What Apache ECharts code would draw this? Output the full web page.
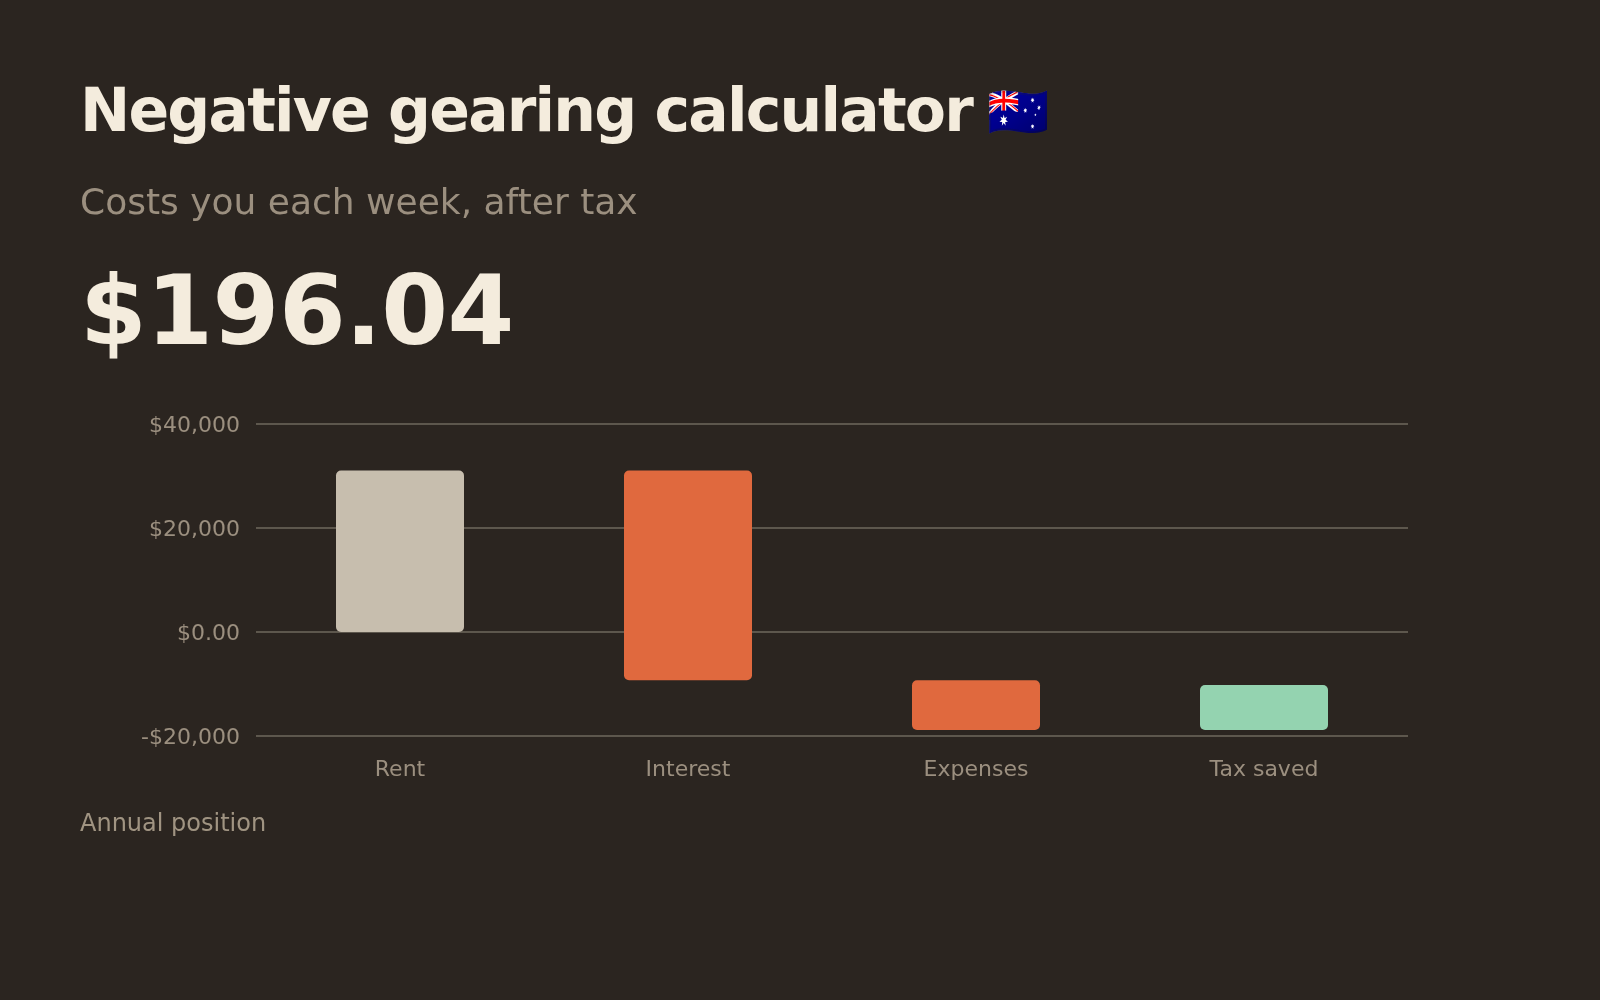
<!DOCTYPE html>
<html>
<head>
<meta charset="utf-8">
<title>Negative gearing calculator</title>
<script src="https://cdn.jsdelivr.net/npm/echarts@6/dist/echarts.min.js"></script>
<style>
  html, body { margin: 0; padding: 0; background: #2b2520; }
  body { width: 1600px; height: 1000px; position: relative; overflow: hidden; font-family: "DejaVu Sans", sans-serif; }
  #chart { position: absolute; left: 0; top: 0; width: 1600px; height: 1000px; }
  .txt { position: absolute; left: 80px; line-height: 1; white-space: nowrap; z-index: 2; }
  #title { top: 80px; font-size: 60px; font-weight: bold; color: #f4ecdd; letter-spacing: -0.03em; }
  #title .flag { font-size: 50px; letter-spacing: 0; margin-left: -4px; vertical-align: 2px; }
  #subtitle { top: 184px; font-size: 36px; color: #9b8f7f; }
  #amount { top: 263px; font-size: 96px; font-weight: bold; color: #f4ecdd; letter-spacing: -0.5px; }
  #footnote { top: 811px; font-size: 24px; color: #a09482; }
</style>
</head>
<body>
<div id="chart"></div>
<div class="txt" id="title">Negative gearing calculator <span class="flag">🇦🇺</span></div>
<div class="txt" id="subtitle">Costs you each week, after tax</div>
<div class="txt" id="amount">$196.04</div>
<div class="txt" id="footnote">Annual position</div>
<script>
// annual waterfall
const categories = ['Rent', 'Interest', 'Expenses', 'Tax saved'];
const changes = [31000, -40300, -9550, 8656];
const yTicks = [-20000, 0, 20000, 40000];
const yTickLabels = ['-$20,000', '$0.00', '$20,000', '$40,000'];

const barColors = ['#c7beae', '#e0693e', '#e0693e', '#94d3b0'];

var chartDom = document.getElementById('chart');
var myChart = echarts.init(chartDom);

// running total -> [index, from, to]
let running = 0;
const steps = changes.map((c, i) => {
  const from = running;
  running += c;
  return [i, from, running];
});

var option = {
  backgroundColor: 'transparent',
  animation: false,
  grid: { left: 256, right: 192, top: 423.7, bottom: 264 },
  xAxis: {
    type: 'category',
    data: categories,
    axisLine: { show: false },
    axisTick: { show: false },
    axisLabel: {
      color: '#9b8f7f',
      fontSize: 22,
      fontFamily: 'DejaVu Sans',
      margin: 23
    }
  },
  yAxis: {
    type: 'value',
    min: yTicks[0],
    max: yTicks[yTicks.length - 1],
    interval: 20000,
    axisLine: { show: false },
    axisTick: { show: false },
    splitLine: { lineStyle: { color: '#5d574d', width: 2 } },
    axisLabel: {
      color: '#9b8f7f',
      fontSize: 22,
      fontFamily: 'DejaVu Sans',
      margin: 16,
      formatter: function (v) {
        const idx = yTicks.indexOf(v);
        return idx >= 0 ? '{t|' + yTickLabels[idx] + '}' : '';
      },
      rich: {
        t: { color: '#9b8f7f', fontSize: 22, fontFamily: 'DejaVu Sans', padding: [5, 0, 0, 0] }
      }
    }
  },
  series: [
    {
      type: 'custom',
      data: steps,
      encode: { x: 0, y: [1, 2] },
      renderItem: function (params, api) {
        const i = api.value(0);
        const top = api.coord([i, Math.max(api.value(1), api.value(2))]);
        const bottom = api.coord([i, Math.min(api.value(1), api.value(2))]);
        const w = 128;
        return {
          type: 'rect',
          shape: { x: top[0] - w / 2, y: top[1], width: w, height: bottom[1] - top[1], r: 5 },
          style: { fill: barColors[params.dataIndex % barColors.length] }
        };
      }
    }
  ]
};

myChart.setOption(option);
</script>
</body>
</html>
